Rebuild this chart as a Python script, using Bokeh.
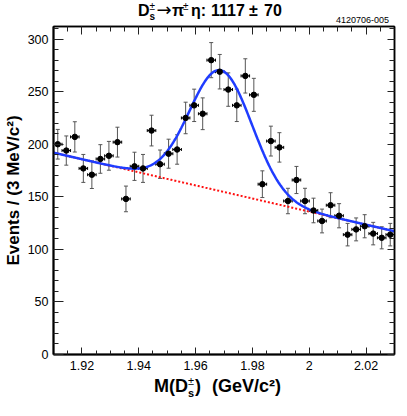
import numpy as np
from bokeh.plotting import figure
from bokeh.layouts import column
from bokeh.models import (Range1d, LinearAxis, FixedTicker, ColumnDataSource,
                          Whisker, TeeHead, Div)
from bokeh.embed import file_html
from bokeh.resources import INLINE

# ---------------- data ----------------
mass = [1.9115, 1.9145, 1.9175, 1.9205, 1.9235, 1.9265, 1.9295, 1.9325,
        1.9355, 1.9385, 1.9415, 1.9445, 1.9475, 1.9505, 1.9535, 1.9565,
        1.9595, 1.9625, 1.9655, 1.9685, 1.9715, 1.9745, 1.9775, 1.9805,
        1.9835, 1.9865, 1.9895, 1.9925, 1.9955, 1.9985, 2.0015, 2.0045,
        2.0075, 2.0105, 2.0135, 2.0165, 2.0195, 2.0225, 2.0255, 2.0285]
counts = [200, 194, 207, 177, 171, 186, 189, 202, 148, 179,
          177, 213, 181, 191, 195, 225, 237, 229, 280, 269,
          252, 237, 265, 247, 162, 203, 197, 146, 166, 146,
          137, 127, 142, 132, 114, 119, 122, 115, 111, 114]
errors = [14.1, 13.9, 14.4, 13.3, 13.1, 13.6, 13.7, 14.2, 12.2, 13.4,
          13.3, 14.6, 13.5, 13.8, 14.0, 15.0, 15.4, 15.1, 16.7, 16.4,
          15.9, 15.4, 16.3, 15.7, 12.7, 14.2, 14.0, 12.1, 12.9, 12.1,
          11.7, 11.3, 11.9, 11.5, 10.7, 10.9, 11.0, 10.7, 10.5, 10.7]
bin_half = 0.0015

x_ticks = [1.92, 1.94, 1.96, 1.98, 2.00, 2.02]
x_tick_labels = ["1.92", "1.94", "1.96", "1.98", "2", "2.02"]
y_ticks = [0, 50, 100, 150, 200, 250, 300]
y_tick_labels = ["0", "50", "100", "150", "200", "250", "300"]

# fit: gaussian signal + linear background
sig_mean = 1.9689
sig_sigma = 0.0110
sig_amp = 115.0
bg_at_lo = 192.0
bg_slope = -623.0

XMIN, XMAX = 1.91, 2.03
YMIN, YMAX = 0.0, 312.0

YIELD, YIELD_ERR = "1117", "70"
FIG_ID = "4120706-005"
Y_TITLE = "Events / (3 MeV/c²)"

# ---------------- layout ----------------
W = 391
FL, FW, FH = 48, 341, 328
TOP_H, BOT_H = 25, 24

p = figure(frame_width=FW, frame_height=FH,
           min_border_left=FL, min_border_right=W - FL - FW,
           min_border_top=1, min_border_bottom=22,
           x_range=Range1d(XMIN, XMAX), y_range=Range1d(YMIN, YMAX),
           output_backend="svg", toolbar_location=None,
           background_fill_color="white", border_fill_color="white",
           margin=0)
p.title.visible = False
p.grid.visible = False
p.outline_line_color = "black"
p.outline_line_width = 1.5

x_minor = np.round(np.arange(1.910, 2.0301, 0.005), 4).tolist()
y_minor = list(range(0, 320, 10))
xticker = FixedTicker(ticks=x_ticks, minor_ticks=x_minor)
yticker = FixedTicker(ticks=y_ticks, minor_ticks=y_minor)


def style_axis(ax, show_labels, major_len=8, minor_len=4):
    ax.axis_line_color = "black"
    ax.axis_line_width = 2
    ax.major_tick_in = major_len
    ax.major_tick_out = 0
    ax.minor_tick_in = minor_len
    ax.minor_tick_out = 0
    ax.major_tick_line_color = "#222222"
    ax.minor_tick_line_color = "#222222"
    ax.major_tick_line_width = 1
    ax.minor_tick_line_width = 1
    ax.major_label_text_font = "Liberation Sans"
    ax.major_label_text_color = "black"
    if show_labels:
        ax.major_label_text_font_size = "12.5px"
        ax.major_label_standoff = 6
    else:
        ax.major_label_text_font_size = "0px"
        ax.major_label_text_alpha = 0
        ax.major_label_standoff = 0


xa = p.xaxis[0]
xa.ticker = xticker
xa.major_label_overrides = dict(zip(x_ticks, x_tick_labels))
style_axis(xa, True, 7, 4)
ya = p.yaxis[0]
ya.ticker = yticker
ya.major_label_overrides = dict(zip(y_ticks, y_tick_labels))
style_axis(ya, True, 10, 5)
ya.major_label_standoff = 5
ya.axis_label = Y_TITLE
ya.axis_label_text_font = "Liberation Sans"
ya.axis_label_text_font_size = "17px"
ya.axis_label_text_font_style = "bold"
ya.axis_label_text_color = "black"
ya.axis_label_standoff = 2

top = LinearAxis(ticker=xticker)
style_axis(top, False, 8, 5)
top.axis_line_width = 1.5
p.add_layout(top, "above")
right = LinearAxis(ticker=yticker)
style_axis(right, False, 7, 5)
right.axis_line_width = 1.5
p.add_layout(right, "right")

# ---------------- fit curves ----------------
xf = np.linspace(XMIN, XMAX, 481)
bg = bg_at_lo + bg_slope * (xf - XMIN)
total = bg + sig_amp * np.exp(-0.5 * ((xf - sig_mean) / sig_sigma) ** 2)
p.line(xf, bg, line_color="#ff1010", line_width=2, line_dash="2 2")
p.line(xf, total, line_color="#1f3cff", line_width=2.5)

# ---------------- data points ----------------
src = ColumnDataSource(dict(
    x=mass, y=counts,
    ylo=[c - e for c, e in zip(counts, errors)],
    yhi=[c + e for c, e in zip(counts, errors)],
    xlo=[m - bin_half for m in mass],
    xhi=[m + bin_half for m in mass]))

p.add_layout(Whisker(source=src, base="x", lower="ylo", upper="yhi",
                     dimension="height", line_color="#555555", line_width=1,
                     upper_head=TeeHead(size=4, line_color="#555555", line_width=1),
                     lower_head=TeeHead(size=4, line_color="#555555", line_width=1)))
p.add_layout(Whisker(source=src, base="y", lower="xlo", upper="xhi",
                     dimension="width", line_color="black", line_width=1,
                     upper_head=TeeHead(size=3, line_color="black", line_width=1),
                     lower_head=TeeHead(size=3, line_color="black", line_width=1)))
p.scatter("x", "y", source=src, size=5.5, color="black")


# ---------------- texts outside the plot (HTML, real text) ----------------
def piece(text, left, baseline, size, bold=True, right=None,
          family="'Liberation Sans',Arial,sans-serif"):
    top = baseline - 0.83 * size
    pos = f"right:{right}px;" if right is not None else f"left:{left}px;"
    return (f'<span style="position:absolute;{pos}top:{top:.1f}px;'
            f'font-family:{family};'
            f'font-size:{size}px;line-height:1;white-space:nowrap;color:#000;'
            f'font-weight:{"bold" if bold else "normal"}">{text}</span>')


def box(inner, h):
    return (f'<div style="position:relative;width:{W}px;height:{h}px;'
            f'margin:0;padding:0;overflow:visible">{inner}</div>')


t0, tb = 138, 16
title_html = box("".join([
    piece("D", t0, tb, 16),
    piece("±", t0 + 11.5, tb - 6, 10, bold=False),
    piece("s", t0 + 11.5, tb + 4.5, 10),
    piece("→", t0 + 18.5, tb, 18, bold=False, family="'DejaVu Sans',sans-serif"),
    piece("π", t0 + 34, tb, 16),
    piece("±", t0 + 45, tb - 6, 10, bold=False),
    piece("η:", t0 + 53, tb, 16),
    piece(YIELD, t0 + 73, tb, 16),
    piece("±", t0 + 111, tb, 16),
    piece(YIELD_ERR, t0 + 126, tb, 16),
    piece(FIG_ID, 0, 23.5, 9, bold=False, right=2),
]), TOP_H)

x0, xb = 154, 16
xlabel_html = box("".join([
    piece("M(D", x0, xb, 18),
    piece("±", x0 + 34, xb - 7, 11, bold=False),
    piece("s", x0 + 34, xb + 5, 11),
    piece(")", x0 + 41, xb, 18),
    piece("(GeV/c²)", x0 + 58, xb, 18),
]), BOT_H)

title_div = Div(text=title_html, width=W, height=TOP_H, margin=0)
xlabel_div = Div(text=xlabel_html, width=W, height=BOT_H, margin=0)

layout = column(title_div, p, xlabel_div, spacing=0, margin=0)

open("out.html", "w").write(file_html(layout, INLINE))
